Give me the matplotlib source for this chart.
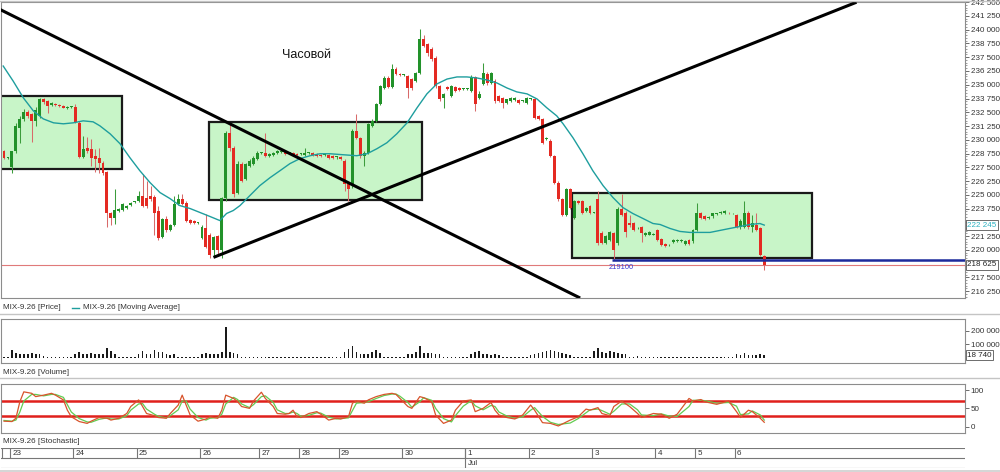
import numpy as np
import matplotlib
matplotlib.use("Agg")
import matplotlib.pyplot as plt
from matplotlib.patches import Rectangle
from matplotlib.lines import Line2D
from matplotlib.ticker import MultipleLocator, FuncFormatter

plt.rcParams['font.family'] = ['Liberation Sans', 'DejaVu Sans']

# MIX-9.26 hourly bars (bar index 0..192)
opens = [
    229000, 228370, 227550, 229000, 231090, 231900, 232540, 232350, 231720, 232170,
    233710, 233530, 233170, 233260, 233170, 233080, 232900, 232990, 232990, 231540,
    228460, 229280, 229190, 228550, 228370, 227920, 227100, 223300, 222930, 223570,
    223660, 223840, 224110, 224380, 224470, 224930, 224750, 224930, 224840, 223570,
    221120, 222840, 221760, 222210, 224200, 224660, 224290, 222750, 222660, 222480,
    221030, 221940, 221300, 219950, 221210, 219950, 224750, 230630, 229280, 225200,
    227830, 226470, 227640, 227830, 228280, 228820, 228820, 228550, 228640, 228820,
    228910, 228910, 228820, 228820, 228730, 228730, 228640, 228820, 228820, 228730,
    228640, 228640, 228640, 228550, 228460, 228460, 228100, 226010, 226010, 230810,
    230180, 228550, 228820, 231270, 231720, 233260, 234710, 235620, 234800, 236430,
    235980, 235890, 235800, 235530, 235340, 236070, 239150, 238700, 238240, 237430,
    234890, 233800, 234800, 233990, 234800, 234710, 234620, 234620, 234440, 235710,
    233800, 235070, 235980, 235160, 235340, 233990, 233800, 233350, 233530, 233620,
    233620, 233530, 233350, 233710, 233710, 232170, 231900, 230090, 229910, 228550,
    226100, 224660, 223120, 225560, 222930, 224470, 224470, 223570, 224020, 223390,
    224660, 221490, 220580, 220850, 221490, 220580, 223750, 223390, 222480, 222480,
    221940, 222030, 221300, 221390, 221390, 221760, 220940, 220490, 220400, 220670,
    220760, 220760, 220490, 220850, 220760, 221760, 223390, 223030, 222930, 223030,
    223210, 223300, 223300, 223390, 223300, 223120, 222030, 222030, 223300, 222030,
    222210, 221940, 219400,
]
highs = [
    229090, 228460, 229000, 231540, 232170, 232810, 232720, 232450, 232990, 233800,
    233800, 233620, 233440, 233350, 233260, 233170, 233080, 233080, 233260, 231720,
    230360, 230270, 230090, 229190, 229280, 228100, 227190, 223480, 225560, 223840,
    224290, 224110, 224380, 224470, 225380, 226920, 226290, 225830, 225020, 224020,
    222930, 223030, 222300, 224930, 225110, 225110, 224470, 222840, 222750, 222570,
    222210, 223210, 221490, 221210, 221300, 224840, 230810, 231540, 229460, 228100,
    228010, 227920, 228280, 228550, 229000, 228910, 230630, 228820, 228910, 229090,
    229000, 229000, 228910, 228910, 228820, 228820, 229280, 228910, 228910, 228820,
    228730, 228730, 228730, 228640, 228550, 228550, 228280, 226200, 230990, 232350,
    230270, 229000, 231540, 231900, 233350, 234980, 235800, 235800, 236880, 236610,
    236070, 235980, 235890, 235620, 236160, 240050, 239510, 238790, 238420, 237610,
    234980, 234260, 234890, 234980, 234890, 234800, 234710, 234710, 235890, 235800,
    234440, 236970, 236160, 236160, 235530, 234080, 233890, 233440, 233890, 233890,
    233710, 233620, 233890, 233800, 233800, 232260, 231990, 230270, 230090, 228640,
    226290, 224750, 225650, 225650, 224570, 224570, 224570, 223930, 224110, 223480,
    225380, 221670, 221300, 221670, 221580, 223930, 225110, 223570, 223120, 222570,
    222030, 222120, 221580, 221670, 221490, 221850, 221030, 220580, 220490, 220940,
    220940, 220940, 220850, 220940, 221850, 224290, 223480, 223120, 223030, 223390,
    223390, 223570, 223660, 223480, 223390, 223210, 222840, 224470, 223570, 223120,
    223390, 222030, 219490,
]
lows = [
    228280, 228280, 227010, 228820, 229730, 231720, 231990, 229820, 231270, 231990,
    233260, 232450, 233080, 233080, 232990, 232900, 232810, 232900, 231540, 228370,
    228370, 228820, 227640, 227100, 227010, 226830, 222030, 222210, 222390, 223480,
    223570, 223750, 224020, 224290, 224380, 223930, 223840, 224470, 221300, 220850,
    221030, 221580, 221670, 222120, 224110, 224110, 222570, 222390, 222390, 222390,
    220940, 220130, 219220, 219310, 219400, 219220, 224470, 229000, 224840, 225110,
    226200, 226380, 227550, 227740, 228190, 228730, 228460, 228460, 228550, 228730,
    228820, 228640, 228730, 228550, 228550, 228640, 228550, 228730, 228550, 228460,
    228460, 228550, 228280, 228280, 228280, 228190, 225380, 224470, 225650, 230090,
    228370, 227640, 228730, 231180, 231630, 233170, 234620, 234710, 234710, 235890,
    235800, 235800, 233800, 234530, 235250, 235980, 238420, 237610, 237160, 234710,
    233530, 232900, 234530, 233890, 234350, 234440, 234530, 234530, 234350, 232630,
    233710, 234980, 234980, 235070, 233350, 233440, 232900, 233260, 233440, 233530,
    233260, 233440, 233260, 233620, 231900, 231810, 229640, 230000, 228460, 226010,
    224470, 223030, 223030, 223750, 222840, 224200, 223210, 223480, 223210, 223300,
    220400, 220490, 220490, 220760, 219100, 220400, 223030, 221120, 222030, 221670,
    221850, 220670, 221210, 221300, 221300, 220760, 220310, 220220, 220310, 220580,
    220670, 220670, 220400, 220400, 220580, 221670, 222840, 222750, 222840, 222930,
    223120, 223210, 223210, 223210, 223210, 221940, 221850, 221940, 221850, 221580,
    221670, 219400, 218130,
]
closes = [
    228370, 228370, 229000, 231270, 231900, 232540, 232170, 231720, 232720, 233710,
    233440, 233080, 233350, 233170, 233080, 232900, 232990, 232990, 231630, 228460,
    229190, 229000, 228370, 228280, 227920, 227010, 223300, 222930, 223660, 223750,
    224200, 224020, 224290, 224380, 224930, 224020, 224020, 224660, 223300, 221030,
    222840, 221760, 222210, 224200, 224660, 224200, 222660, 222480, 222480, 222480,
    222030, 220220, 219490, 221120, 219950, 224750, 230630, 229280, 225110, 227830,
    226290, 227830, 228100, 228370, 228820, 228820, 228550, 228730, 228820, 229000,
    228910, 228730, 228820, 228640, 228640, 228730, 228820, 228820, 228640, 228550,
    228550, 228640, 228370, 228370, 228550, 228280, 226010, 225560, 230810, 230180,
    228550, 228820, 231450, 231720, 233260, 234890, 235620, 234800, 236430, 235980,
    235890, 235890, 234710, 234710, 236070, 239150, 238510, 237880, 237340, 234890,
    233710, 234170, 234620, 234890, 234440, 234530, 234620, 234620, 235710, 233260,
    234170, 236070, 235160, 236070, 233530, 233530, 233350, 233710, 233800, 233800,
    233350, 233530, 233800, 233710, 231990, 231900, 229730, 230180, 228550, 226100,
    224660, 223120, 225560, 223840, 224470, 224290, 223300, 223840, 223300, 223390,
    220580, 220580, 221210, 221580, 219950, 223750, 223120, 221580, 222210, 221760,
    221940, 221490, 221490, 221580, 221390, 220850, 220400, 220310, 220400, 220850,
    220850, 220850, 220760, 220490, 221760, 223390, 222930, 222840, 222930, 223300,
    223300, 223480, 223570, 223300, 223300, 222030, 222660, 223390, 222030, 222480,
    221760, 219490, 218625,
]
volumes = [
    5000, 3000, 55000, 35000, 30000, 30000, 23000, 35000, 30000, 28000,
    13000, 4000, 4000, 4000, 4000, 4000, 4000, 4000, 25000, 38000,
    23000, 28000, 35000, 25000, 28000, 30000, 68000, 48000, 30000, 4000,
    4000, 4000, 4000, 4000, 25000, 48000, 30000, 30000, 55000, 38000,
    38000, 25000, 18000, 23000, 4000, 4000, 4000, 4000, 4000, 4000,
    25000, 35000, 25000, 28000, 30000, 43000, 230000, 38000, 35000, 30000,
    4000, 4000, 4000, 4000, 4000, 4000, 4000, 4000, 4000, 4000,
    4000, 4000, 4000, 4000, 4000, 4000, 4000, 4000, 4000, 4000,
    4000, 4000, 4000, 4000, 4000, 4000, 38000, 62000, 83000, 38000,
    25000, 25000, 25000, 38000, 58000, 33000, 4000, 4000, 4000, 4000,
    4000, 4000, 25000, 25000, 38000, 88000, 33000, 33000, 33000, 25000,
    25000, 4000, 4000, 4000, 4000, 4000, 4000, 4000, 25000, 43000,
    50000, 25000, 25000, 20000, 25000, 18000, 4000, 4000, 4000, 4000,
    4000, 4000, 4000, 18000, 25000, 33000, 43000, 50000, 55000, 50000,
    43000, 33000, 25000, 20000, 4000, 4000, 4000, 4000, 4000, 50000,
    68000, 43000, 33000, 50000, 38000, 33000, 25000, 25000, 4000, 4000,
    10000, 4000, 4000, 4000, 4000, 4000, 4000, 4000, 4000, 4000,
    4000, 4000, 4000, 4000, 4000, 4000, 4000, 4000, 4000, 4000,
    4000, 4000, 4000, 4000, 4000, 25000, 18000, 33000, 18000, 18000,
    18000, 25000, 18740,
]

# moving average (bar index, value)
ma_idx = [-0.2, 2.3, 4.9, 7.4, 9.9, 12.5, 15.0, 17.5, 20.0, 22.5, 24.2, 26.8, 29.3,
          31.8, 34.3, 36.9, 39.4, 41.9, 44.4, 47.0, 49.5, 52.0, 54.5, 56.2, 57.9,
          59.6, 62.1, 64.6, 67.2, 69.7, 72.2, 74.7, 77.3, 79.8, 82.3, 85.6, 89.1,
          91.7, 94.2, 96.7, 99.2, 101.8, 104.3, 106.8, 109.3, 111.9, 114.4, 116.9,
          119.4, 122.0, 124.5, 127.0, 129.5, 132.1, 134.6, 137.1, 139.6, 141.2,
          143.7, 146.2, 148.7, 151.3, 153.8, 156.3, 158.8, 161.4, 163.9, 165.7,
          168.2, 170.7, 173.2, 175.8, 178.3, 180.8, 183.3, 185.9, 188.4, 190.9, 192.0]
ma_val = [236700, 235340, 233800, 232630, 231900, 231540, 231450, 231540, 231720,
          231630, 231270, 230540, 229640, 228370, 227190, 226100, 225200, 224660,
          224020, 223750, 223390, 223030, 222660, 223300, 223570, 224020, 224930,
          225830, 226560, 227190, 227830, 228280, 228550, 228730, 228730, 228640,
          228550, 228730, 229190, 229730, 230540, 231540, 232900, 234170, 235070,
          235520, 235710, 235710, 235620, 235430, 235160, 234710, 234350, 234170,
          233710, 232900, 232170, 231450, 230180, 228730, 227190, 225830, 224750,
          223840, 223300, 222840, 222390, 222300, 221940, 221670, 221580, 221580,
          221580, 221760, 221940, 222120, 222300, 222390, 222245]

# stochastic %K (red) and %D (green)
stoch_idx = [0, 2, 3, 4, 5, 7, 8, 10, 12, 13, 15, 16, 17, 19, 21, 22, 24, 26, 27, 29,
             31, 32, 34, 35, 36, 38, 39, 41, 42, 44, 45, 46, 47, 49, 51, 52, 54, 55,
             56, 58, 59, 60, 62, 63, 65, 66, 68, 69, 71, 72, 73, 74, 75, 77, 79, 80,
             82, 84, 85, 87, 88, 89, 91, 92, 94, 96, 98, 99, 100, 102, 103, 105, 106,
             108, 109, 111, 113, 114, 116, 118, 119, 121, 123, 124, 125, 127, 129,
             131, 133, 134, 136, 138, 140, 143, 145, 147, 148, 150, 151, 153, 154,
             156, 158, 160, 161, 164, 166, 168, 170, 173, 174, 176, 177, 180, 183,
             185, 186, 188, 189, 191, 192]
stoch_k = [15, 14, 23, 68, 95, 91, 82, 86, 91, 86, 73, 45, 27, 14, 9, 15, 25, 23, 18,
           23, 36, 55, 73, 55, 36, 30, 25, 23, 36, 59, 86, 59, 32, 15, 21, 27, 23, 45,
           86, 77, 68, 55, 50, 70, 94, 77, 55, 36, 34, 36, 45, 27, 25, 36, 41, 34,
           18, 23, 21, 27, 64, 70, 64, 73, 82, 88, 91, 88, 77, 55, 50, 82, 79, 68,
           32, 9, 18, 45, 70, 73, 41, 50, 66, 45, 32, 25, 21, 32, 59, 45, 11, 9, 2,
           18, 27, 48, 45, 52, 36, 30, 55, 70, 55, 36, 25, 36, 34, 23, 34, 77, 70,
           74, 68, 61, 70, 41, 25, 45, 41, 23, 12]
stoch_d = [17, 15, 18, 40, 70, 88, 88, 84, 88, 88, 80, 60, 40, 22, 13, 12, 20, 24, 21,
           21, 30, 45, 62, 63, 48, 34, 28, 24, 30, 46, 70, 70, 48, 25, 18, 23, 25, 34,
           62, 80, 74, 62, 52, 60, 82, 84, 66, 46, 36, 36, 40, 36, 28, 31, 38, 37,
           26, 21, 22, 24, 44, 64, 66, 68, 77, 85, 89, 89, 83, 66, 53, 68, 79, 72,
           50, 22, 13, 30, 56, 71, 57, 46, 58, 55, 40, 29, 23, 27, 45, 52, 28, 12, 6,
           10, 22, 38, 46, 48, 44, 34, 42, 62, 62, 46, 32, 30, 35, 29, 28, 55, 72,
           72, 71, 64, 66, 56, 33, 35, 43, 32, 18]
stoch_levels = [70, 30]

# date axis: first bar of each session
day_labels = ['', '23', '24', '25', '26', '27', '28', '29', '30', '1', '2', '3', '4', '5', '6']
day_start = [0, 2, 18, 34, 50, 65, 75, 85, 101, 117, 133, 149, 165, 175, 185]
month_label = 'Jul'
month_start = 117

# drawn objects: consolidation boxes (bar from, bar to, upper price, lower price)
box_from = [-3, 51.8, 143.4]
box_to = [29.9, 105.5, 204.0]
box_hi = [233960, 231660, 225140]
box_lo = [227310, 224540, 219270]
# trend lines (bar, price) pairs
trend_down = ([-1.0, 145.5], [241840, 215620])
trend_up = ([52.9, 215.3], [219310, 242500])
support_level = 219100
support_bar = 154
last_price = 218625
ma_last = 222245
vol_last = 18740

GREEN = '#22922a'
RED = '#e42a22'
TEAL = '#1e9e9e'
FRAME = '#8c8c8c'
TXT = '#333333'
FS = 5.8

W, H = 1000, 472
XLIM = (-0.76, 242.7)


def spaced(v, pos=None):
    return f"{int(round(v)):,}".replace(",", " ")


def price_tick(v, pos=None):
    # labels hidden behind the boxed current values
    if abs(v - ma_last) < 600 or abs(v - last_price) < 600:
        return ''
    return spaced(v)


def rect(y_top, y_bot, x0=1, x1=965):
    return [x0 / W, 1 - y_bot / H, (x1 - x0) / W, (y_bot - y_top) / H]


def frame(ax):
    for s in ax.spines.values():
        s.set_color(FRAME)
        s.set_linewidth(0.8)
    ax.set_xlim(*XLIM)
    ax.set_xticks([])
    ax.yaxis.tick_right()
    ax.tick_params(axis='y', which='major', length=3, width=0.6, pad=1,
                   labelsize=FS, labelcolor=TXT, color='#555555')
    ax.tick_params(axis='y', which='minor', length=1.5, width=0.5, color='#777777')


def box_label(ax, y, text, color):
    ax.text(1.0025, y, text, transform=ax.get_yaxis_transform(), ha='left', va='center',
            fontsize=FS, color=color, clip_on=False, zorder=10,
            bbox=dict(boxstyle='square,pad=0.15', fc='white', ec='#555555', lw=0.6))


def main():
    fig = plt.figure(figsize=(W / 100, H / 100), dpi=100)

    o = np.array(opens, float)
    h = np.array(highs, float)
    l = np.array(lows, float)
    c = np.array(closes, float)
    x = np.arange(len(c))
    up = c >= o

    # price panel
    ax = fig.add_axes(rect(2, 298))
    frame(ax)
    ax.set_ylim(215620, 242520)
    ax.yaxis.set_major_locator(MultipleLocator(1250))
    ax.yaxis.set_minor_locator(MultipleLocator(250))
    ax.yaxis.set_major_formatter(FuncFormatter(price_tick))

    for x0, x1, hi, lo in zip(box_from, box_to, box_hi, box_lo):
        ax.add_patch(Rectangle((x0, lo), x1 - x0, hi - lo, fc='#c8f5c8', ec='#1a1a1a',
                               lw=1.6, zorder=1))

    ax.axhline(last_price, color='#e07a7a', lw=0.8, zorder=2)

    wick_col = np.where(up, '#3c9c3c', '#d86a6a')
    ax.vlines(x, l, h, colors=wick_col, lw=0.75, zorder=3)
    body = np.maximum(np.abs(c - o), 70)
    ax.bar(x, body, bottom=np.minimum(o, c), width=0.74,
           color=np.where(up, GREEN, RED), lw=0, zorder=4)

    ax.plot(ma_idx, ma_val, color=TEAL, lw=1.0, zorder=5)

    ax.plot(*trend_down, color='black', lw=2.2, zorder=6, solid_capstyle='butt')
    ax.plot(*trend_up, color='black', lw=2.2, zorder=6, solid_capstyle='butt')

    ax.hlines(support_level, support_bar - 0.5, XLIM[1], color='#1c2a9c', lw=1.8, zorder=6)
    ax.annotate(str(support_level), xy=(support_bar - 0.5, support_level), xytext=(-3, -8),
                textcoords='offset pixels', ha='left', va='center', fontsize=5.4,
                color='#3a3ad0', zorder=7)

    box_label(ax, ma_last, spaced(ma_last), '#2ab0c0')
    box_label(ax, last_price, spaced(last_price), '#222222')

    fig.text(282 / W, 1 - 55 / H, 'Часовой', fontsize=9, va='center', ha='left', color='#111111')

    # volume panel
    axv = fig.add_axes(rect(319, 363))
    frame(axv)
    axv.set_ylim(-41000, 289000)
    axv.set_yticks([100000, 200000])
    axv.yaxis.set_major_formatter(FuncFormatter(spaced))
    axv.bar(x, volumes, width=0.42, color='#1a1a1a', lw=0)
    box_label(axv, vol_last, spaced(vol_last), '#222222')

    # stochastic panel
    axs = fig.add_axes(rect(384, 432.7))
    frame(axs)
    axs.set_ylim(-16.4, 116.4)
    axs.set_yticks([0, 50, 100])
    for lev in stoch_levels:
        axs.axhline(lev, color='#e0201c', lw=1.8, zorder=2)
    axs.plot(stoch_idx, stoch_d, color='#62cc52', lw=0.9, zorder=3)
    axs.plot(stoch_idx, stoch_k, color='#d8542c', lw=0.9, zorder=4)

    # date axis
    axd = fig.add_axes(rect(447.7, 468.3))
    axd.set_xlim(*XLIM)
    axd.set_ylim(0, 1)
    axd.axis('off')
    for yy in (0, 0.49, 1):
        axd.axhline(yy, color='#777777', lw=0.8)
    for s, lab in zip(day_start, day_labels):
        axd.vlines(s - 0.5, 0.49, 1, color='#777777', lw=0.8)
        axd.text(s + 0.1, 0.74, lab, fontsize=FS, color=TXT, ha='left', va='center')
    axd.vlines(month_start - 0.5, 0, 1, color='#777777', lw=0.8)
    axd.text(month_start + 0.1, 0.24, month_label, fontsize=FS, color=TXT, ha='left', va='center')

    # panel captions and separators
    fig.text(3 / W, 1 - 307.7 / H, 'MIX-9.26 [Price]', fontsize=FS, color=TXT, va='center')
    fig.add_artist(Line2D([71.5 / W, 79 / W], [1 - 307.7 / H] * 2, color=TEAL, lw=1.0))
    fig.text(83 / W, 1 - 307.7 / H, 'MIX-9.26 [Moving Average]', fontsize=FS, color=TXT, va='center')
    fig.text(3 / W, 1 - 372 / H, 'MIX-9.26 [Volume]', fontsize=FS, color=TXT, va='center')
    fig.text(3 / W, 1 - 441.5 / H, 'MIX-9.26 [Stochastic]', fontsize=FS, color=TXT, va='center')
    for yy in (0.5, 314, 378):
        fig.add_artist(Line2D([0, 1], [1 - yy / H] * 2, color='#c4c4c4', lw=1.0))
    fig.add_artist(Rectangle((0, 0), 1, 2.5 / H, transform=fig.transFigure,
                             fc='#d6d6d6', ec='none'))

    fig.savefig('out.png', dpi=100)


if __name__ == "__main__":
    main()
